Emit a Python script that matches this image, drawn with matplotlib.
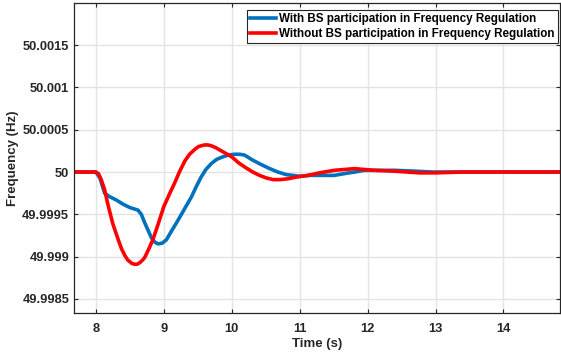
import matplotlib
matplotlib.use("Agg")
import matplotlib.pyplot as plt

# -------------------------------
# Data
# -------------------------------
t_with = [7.6, 8.0, 8.06, 8.13, 8.2, 8.3, 8.4, 8.5, 8.58, 8.62, 8.67, 8.72, 8.77,
          8.82, 8.87, 8.92, 8.98, 9.04, 9.12, 9.21, 9.31, 9.41, 9.48, 9.55, 9.62,
          9.7, 9.78, 9.87, 9.95, 10.04, 10.12, 10.19, 10.31, 10.43, 10.56, 10.68,
          10.8, 10.9, 11.0, 11.15, 11.29, 11.51, 11.65, 11.81, 11.95, 12.1, 12.4,
          12.7, 12.96, 13.3, 14.9]
f_with = [50.0, 50.0, 49.99993, 49.99975, 49.99971, 49.99967, 49.99962, 49.99958,
          49.99956, 49.99955, 49.9995, 49.9994, 49.99931, 49.99922, 49.99917,
          49.99915, 49.99916, 49.9992, 49.99931, 49.99943, 49.99957, 49.99971,
          49.99983, 49.99994, 50.00003, 50.0001, 50.00015, 50.00018, 50.0002,
          50.00021, 50.00021, 50.0002, 50.00014, 50.00009, 50.00004, 50.0,
          49.99997, 49.99996, 49.99995, 49.99996, 49.99996, 49.99996, 49.99998,
          50.0, 50.00002, 50.00002, 50.00002, 50.00001, 50.0, 50.0, 50.0]

t_without = [7.6, 8.0, 8.04, 8.08, 8.13, 8.18, 8.25, 8.33, 8.38, 8.43, 8.47, 8.53,
             8.57, 8.61, 8.65, 8.69, 8.72, 8.78, 8.84, 8.92, 9.0, 9.09, 9.16, 9.23,
             9.31, 9.38, 9.46, 9.51, 9.55, 9.6, 9.65, 9.7, 9.76, 9.87, 10.0, 10.1,
             10.19, 10.31, 10.41, 10.51, 10.61, 10.71, 10.83, 10.95, 11.12, 11.29,
             11.51, 11.66, 11.81, 11.95, 12.1, 12.4, 12.76, 13.0, 13.4, 14.9]
f_without = [50.0, 50.0, 49.99998, 49.99991, 49.99979, 49.99961, 49.99939,
             49.9992, 49.99909, 49.99901, 49.99896, 49.99892, 49.99891, 49.99891,
             49.99893, 49.99896, 49.99899, 49.99909, 49.9992, 49.99939, 49.99959,
             49.99975, 49.99987, 50.0, 50.00013, 50.00021, 50.00027, 50.0003,
             50.00031, 50.00032, 50.00032, 50.00031, 50.00029, 50.00024, 50.00018,
             50.00011, 50.00006, 50.0, 49.99996, 49.99993, 49.99991, 49.99991,
             49.99992, 49.99994, 49.99996, 49.99999, 50.00002, 50.00003, 50.00004,
             50.00003, 50.00002, 50.00001, 49.99999, 49.99999, 50.0, 50.0]

x_ticks = [8, 9, 10, 11, 12, 13, 14]
y_ticks = [49.9985, 49.999, 49.9995, 50.0, 50.0005, 50.001, 50.0015]
y_tick_labels = ["49.9985", "49.999", "49.9995", "50", "50.0005", "50.001", "50.0015"]

plt.rcParams["font.family"] = ["Liberation Sans", "DejaVu Sans"]
dark = "#262626"

fig = plt.figure(figsize=(5.61, 3.56), dpi=100)
ax = fig.add_axes([0.132, 0.12, 0.866, 0.872])

ax.plot(t_with, f_with, color="#0072BD", linewidth=2.6,
        label="With BS participation in Frequency Regulation")
ax.plot(t_without, f_without, color="#FF0000", linewidth=2.6,
        label="Without BS participation in Frequency Regulation")

ax.set_xlim(7.68, 14.83)
ax.set_ylim(49.99833, 50.002)
ax.set_xticks(x_ticks)
ax.set_xticklabels([str(v) for v in x_ticks])
ax.set_yticks(y_ticks)
ax.set_yticklabels(y_tick_labels)

ax.tick_params(direction="in", length=3, width=0.8, colors=dark,
               top=True, right=True, labelsize=9.3)
ax.tick_params(axis="x", pad=7)
for lab in ax.get_xticklabels() + ax.get_yticklabels():
    lab.set_fontweight("bold")
for sp in ax.spines.values():
    sp.set_color(dark)
    sp.set_linewidth(0.9)

ax.grid(True, color="#e3e3e3", linewidth=1.0)
ax.set_axisbelow(True)

ax.set_xlabel("Time (s)", fontsize=9.5, fontweight="bold", color=dark, labelpad=2)
ax.set_ylabel("Frequency (Hz)", fontsize=9.5, fontweight="bold", color=dark, labelpad=2)

leg = ax.legend(loc="upper right", bbox_to_anchor=(0.996, 0.977),
                prop={"weight": "bold", "size": 8.4},
                frameon=True, fancybox=False, edgecolor=dark, framealpha=1,
                handlelength=2.2, handletextpad=0.25, borderpad=0.3,
                labelspacing=0.2, borderaxespad=0)
leg.get_frame().set_linewidth(0.8)

fig.savefig("out.png", dpi=100)
